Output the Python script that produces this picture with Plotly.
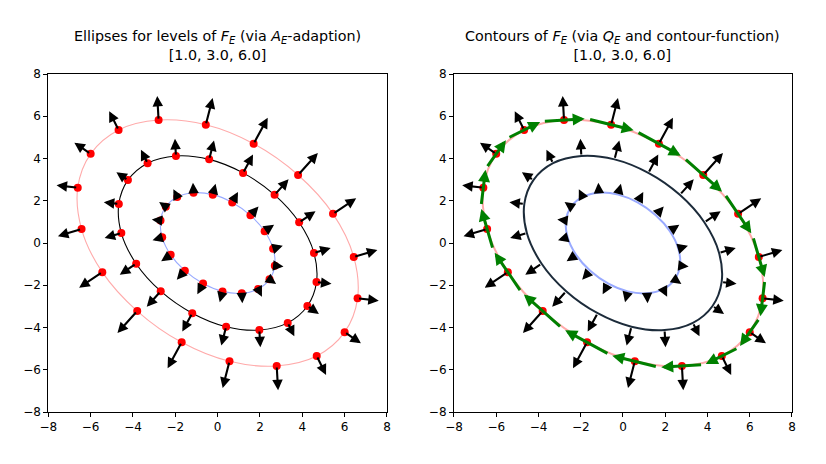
import plotly.graph_objects as go

levels = [1.0, 3.0, 6.0]

# points on the ellipses (clockwise order)
outer_x = [-2.79, -0.56, 1.70, 3.80, 5.45, 6.43, 6.61, 6.00, 4.68,
           2.79, 0.56, -1.70, -3.80, -5.45, -6.43, -6.61, -6.00, -4.68]
outer_y = [5.82, 5.60, 4.70, 3.22, 1.38, -0.66, -2.62, -4.22, -5.35,
           -5.82, -5.60, -4.70, -3.22, -1.38, 0.66, 2.62, 4.22, 5.35]
mid_x = [-1.97, -0.40, 1.20, 2.69, 3.85, 4.55, 4.67, 4.24, 3.31,
         1.97, 0.40, -1.20, -2.69, -3.85, -4.55, -4.67, -4.24, -3.31]
mid_y = [4.12, 3.96, 3.32, 2.28, 0.98, -0.47, -1.85, -2.98, -3.78,
         -4.12, -3.96, -3.32, -2.28, -0.98, 0.47, 1.85, 2.98, 3.78]
inner_x = [-1.14, -0.23, 0.69, 1.55, 2.22, 2.62, 2.70, 2.45, 1.91,
           1.14, 0.23, -0.69, -1.55, -2.22, -2.62, -2.70, -2.45, -1.91]
inner_y = [2.38, 2.29, 1.92, 1.31, 0.56, -0.27, -1.07, -1.72, -2.18,
           -2.38, -2.29, -1.92, -1.31, -0.56, 0.27, 1.07, 1.72, 2.18]

# gradient arrows (black)
outer_u = [-0.065, 0.323, 0.665, 0.934, 1.094, 1.117, 1.001, 0.769, 0.443,
           0.065, -0.323, -0.665, -0.934, -1.094, -1.117, -1.001, -0.769, -0.443]
outer_v = [1.145, 1.263, 1.225, 1.039, 0.736, 0.334, -0.109, -0.529, -0.892,
           -1.145, -1.263, -1.225, -1.039, -0.736, -0.334, 0.109, 0.529, 0.892]
mid_u = [-0.046, 0.228, 0.470, 0.660, 0.774, 0.790, 0.708, 0.544, 0.313,
         0.046, -0.228, -0.470, -0.660, -0.774, -0.790, -0.708, -0.544, -0.313]
mid_v = [0.810, 0.893, 0.866, 0.735, 0.520, 0.236, -0.077, -0.374, -0.631,
         -0.810, -0.893, -0.866, -0.735, -0.520, -0.236, 0.077, 0.374, 0.631]
inner_u = [-0.027, 0.132, 0.271, 0.381, 0.447, 0.456, 0.409, 0.314, 0.181,
           0.027, -0.132, -0.271, -0.381, -0.447, -0.456, -0.409, -0.314, -0.181]
inner_v = [0.467, 0.516, 0.500, 0.424, 0.300, 0.136, -0.044, -0.216, -0.364,
           -0.467, -0.516, -0.500, -0.424, -0.300, -0.136, 0.044, 0.216, 0.364]

# tangent arrows (green) on the outer contour
tan_u = [1.957, 2.133, 2.071, 1.781, 1.249, 0.551, -0.204, -0.917, -1.525,
         -1.957, -2.133, -2.071, -1.781, -1.249, -0.551, 0.204, 0.917, 1.525]
tan_v = [0.119, -0.532, -1.131, -1.577, -1.843, -1.900, -1.691, -1.297, -0.760,
         -0.119, 0.532, 1.131, 1.577, 1.843, 1.900, 1.691, 1.297, 0.760]

tick_vals = [-8, -6, -4, -2, 0, 2, 4, 6, 8]

left_colors = ["#99aaff", "#000000", "#ffaaaa"]
right_colors = ["#99aaff", "#1c2b3a", "#ffaaaa"]
ellipses = [(inner_x, inner_y, inner_u, inner_v),
            (mid_x, mid_y, mid_u, mid_v),
            (outer_x, outer_y, outer_u, outer_v)]

fig = go.Figure()
annotations = []


def closed(a):
    return list(a) + [a[0]]


for (ex, ey, eu, ev), col in zip(ellipses, left_colors):
    fig.add_trace(go.Scatter(x=closed(ex), y=closed(ey), mode="lines",
                             line=dict(color=col, width=1.1, shape="spline"),
                             xaxis="x", yaxis="y", showlegend=False, hoverinfo="skip"))
for (ex, ey, eu, ev) in ellipses:
    fig.add_trace(go.Scatter(x=ex, y=ey, mode="markers",
                             marker=dict(color="red", size=8),
                             xaxis="x", yaxis="y", showlegend=False))

for (ex, ey, eu, ev), col in zip(ellipses, right_colors):
    fig.add_trace(go.Scatter(x=closed(ex), y=closed(ey), mode="lines",
                             line=dict(color=col, width=2, shape="spline"),
                             xaxis="x2", yaxis="y2", showlegend=False, hoverinfo="skip"))
fig.add_trace(go.Scatter(x=outer_x, y=outer_y, mode="markers",
                         marker=dict(color="red", size=8),
                         xaxis="x2", yaxis="y2", showlegend=False))

for xr, yr in (("x", "y"), ("x2", "y2")):
    for (ex, ey, eu, ev) in ellipses:
        for px, py, u, v in zip(ex, ey, eu, ev):
            annotations.append(dict(
                x=px + u, y=py + v, ax=px, ay=py,
                xref=xr, yref=yr, axref=xr, ayref=yr,
                text="", showarrow=True, arrowhead=2, arrowsize=1.0,
                arrowwidth=2.1, arrowcolor="black", standoff=0, startstandoff=0))

for px, py, u, v in zip(outer_x, outer_y, tan_u, tan_v):
    annotations.append(dict(
        x=px + u / 2, y=py + v / 2, ax=px - u / 2, ay=py - v / 2,
        xref="x2", yref="y2", axref="x2", ayref="y2",
        text="", showarrow=True, arrowhead=2, arrowsize=0.8,
        arrowwidth=3, arrowcolor="green", standoff=0, startstandoff=0))

title_font = dict(family="DejaVu Sans", size=14.3, color="black")
annotations.append(dict(
    x=(0.0585 + 0.4685) / 2, y=0.859, xref="paper", yref="paper",
    xanchor="center", yanchor="bottom", showarrow=False, font=title_font,
    text="Ellipses for levels of <i>F</i><sub><i>E</i></sub> (via <i>A</i><sub><i>E</i></sub>-adaption)<br>"
         + str([float(l) for l in levels])))
annotations.append(dict(
    x=(0.5496 + 0.9588) / 2, y=0.859, xref="paper", yref="paper",
    xanchor="center", yanchor="bottom", showarrow=False, font=title_font,
    text="Contours of <i>F</i><sub><i>E</i></sub> (via <i>Q</i><sub><i>E</i></sub> and contour-function)<br>"
         + str([float(l) for l in levels])))

axis_common = dict(range=[-8, 8], tickvals=tick_vals, ticks="outside", ticklen=4,
                   tickcolor="black", showline=True, linecolor="black", linewidth=1,
                   mirror=True, showgrid=False, zeroline=False, automargin=False,
                   tickfont=dict(family="DejaVu Sans", size=12, color="black"))

fig.update_layout(
    template="none",
    width=826, height=464,
    margin=dict(l=0, r=0, t=0, b=0, pad=0, autoexpand=False),
    paper_bgcolor="white", plot_bgcolor="white",
    font=dict(family="DejaVu Sans", color="black"),
    xaxis=dict(domain=[0.0585, 0.4685], anchor="y", **axis_common),
    yaxis=dict(domain=[0.112, 0.8405], anchor="x", **axis_common),
    xaxis2=dict(domain=[0.5496, 0.9588], anchor="y2", **axis_common),
    yaxis2=dict(domain=[0.112, 0.8405], anchor="x2", **axis_common),
    annotations=annotations,
    showlegend=False,
)

fig.write_html("out.html",
               post_script="document.body.style.margin='0';document.body.style.overflow='hidden';")
